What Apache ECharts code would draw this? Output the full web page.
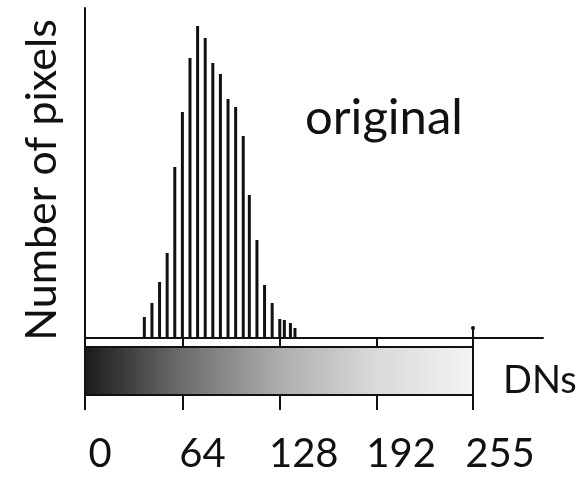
<!DOCTYPE html>
<html>
<head>
<meta charset="utf-8">
<script src="https://cdn.jsdelivr.net/npm/echarts@6/dist/echarts.min.js"></script>
<style>
  html, body { margin: 0; padding: 0; background: #fff; }
  #chart { width: 581px; height: 479px; }
</style>
</head>
<body>
<div id="chart"></div>
<script>
// Histogram bins (digital number) and their pixel counts (relative units)
const dnBins = [39, 44, 49, 54, 59, 64, 69, 74, 79, 84, 89, 94, 99, 104, 108, 113, 118, 123, 128, 131, 135, 138];
const pixelCounts = [21, 35, 56, 85, 171, 226, 280, 312, 300, 275, 264, 239, 231, 202, 143, 98, 53, 35, 19, 18, 15, 10];

// Grey-scale ramp ticks
const tickValues = [0, 64, 128, 192, 255];
const rampRange = [0, 255];

const FONT = 'Lato';
const INK = '#111';

const chart = echarts.init(document.getElementById('chart'), null, { renderer: 'canvas' });

// shift of each ramp label to the right of its tick
const labelShift = { 0: 15, 64: 20, 128: 24, 192: 24, 255: 27 };
const labelRich = {};
tickValues.forEach(v => {
  labelRich['t' + v] = {
    fontFamily: FONT, fontSize: 40, color: INK,
    padding: [0, 0, 0, labelShift[v] * 2]
  };
});

chart.setOption({
  animation: false,
  backgroundColor: '#fff',
  grid: [
    { left: 85, right: 38, top: 8, bottom: 141 },
    { left: 85, right: 38, top: 347, height: 48 }
  ],
  xAxis: [
    {
      gridIndex: 0, type: 'value', min: 0, max: 301,
      axisLine: { show: true, lineStyle: { color: INK, width: 2 } },
      axisTick: { show: false }, axisLabel: { show: false }, splitLine: { show: false }
    },
    {
      gridIndex: 1, type: 'value', min: 0, max: 301, position: 'bottom',
      axisLine: { show: false },
      axisTick: { show: true, customValues: tickValues, length: 15, lineStyle: { color: INK, width: 2 } },
      axisLabel: {
        show: true, customValues: tickValues, margin: 39,
        formatter: v => '{t' + v + '|' + v + '}',
        rich: labelRich
      },
      splitLine: { show: false }
    },
    {
      gridIndex: 1, type: 'value', min: 0, max: 301, position: 'top',
      axisLine: { show: false },
      axisTick: { show: true, customValues: tickValues, length: 9, lineStyle: { color: INK, width: 2 } },
      axisLabel: { show: false }, splitLine: { show: false }
    }
  ],
  yAxis: [
    {
      gridIndex: 0, type: 'value', min: 0, max: 330,
      axisLine: { show: true, lineStyle: { color: INK, width: 2 } },
      axisTick: { show: false }, axisLabel: { show: false }, splitLine: { show: false }
    },
    {
      gridIndex: 1, type: 'value', min: 0, max: 1, show: false
    }
  ],
  series: [
    {
      type: 'bar',
      xAxisIndex: 0, yAxisIndex: 0,
      barWidth: 3,
      itemStyle: { color: INK },
      data: dnBins.map((d, i) => [d, pixelCounts[i]]),
      markLine: {
        silent: true, symbol: ['circle', 'none'], symbolSize: 4,
        lineStyle: { color: INK, width: 2, type: 'solid' },
        label: { show: false },
        data: [[{ coord: [rampRange[1], 10] }, { coord: [rampRange[1], 0] }]]
      }
    },
    {
      // grey-scale ramp under the histogram
      type: 'scatter',
      xAxisIndex: 1, yAxisIndex: 1,
      data: [],
      markArea: {
        silent: true,
        itemStyle: {
          color: {
            type: 'linear', x: 0, y: 0, x2: 1, y2: 0,
            colorStops: [
              { offset: 0, color: '#1a1a1a' },
              { offset: 0.25, color: '#6c6c6c' },
              { offset: 0.5, color: '#adadad' },
              { offset: 0.75, color: '#dadada' },
              { offset: 1, color: '#f4f4f4' }
            ]
          },
          borderColor: INK, borderWidth: 2
        },
        data: [[{ xAxis: rampRange[0] }, { xAxis: rampRange[1] }]]
      }
    }
  ],
  graphic: [
    {
      type: 'text', x: 42, y: 180, rotation: Math.PI / 2,
      style: { text: 'Number of pixels', fontFamily: FONT, fontSize: 43, fill: INK, align: 'center', verticalAlign: 'middle' }
    },
    {
      type: 'text', left: 305, top: 94,
      style: { text: 'original', fontFamily: FONT, fontSize: 49, fill: INK }
    },
    {
      type: 'text', left: 503, top: 362,
      style: { text: 'DNs', fontFamily: FONT, fontSize: 38, fill: INK }
    }
  ]
});
</script>
</body>
</html>
